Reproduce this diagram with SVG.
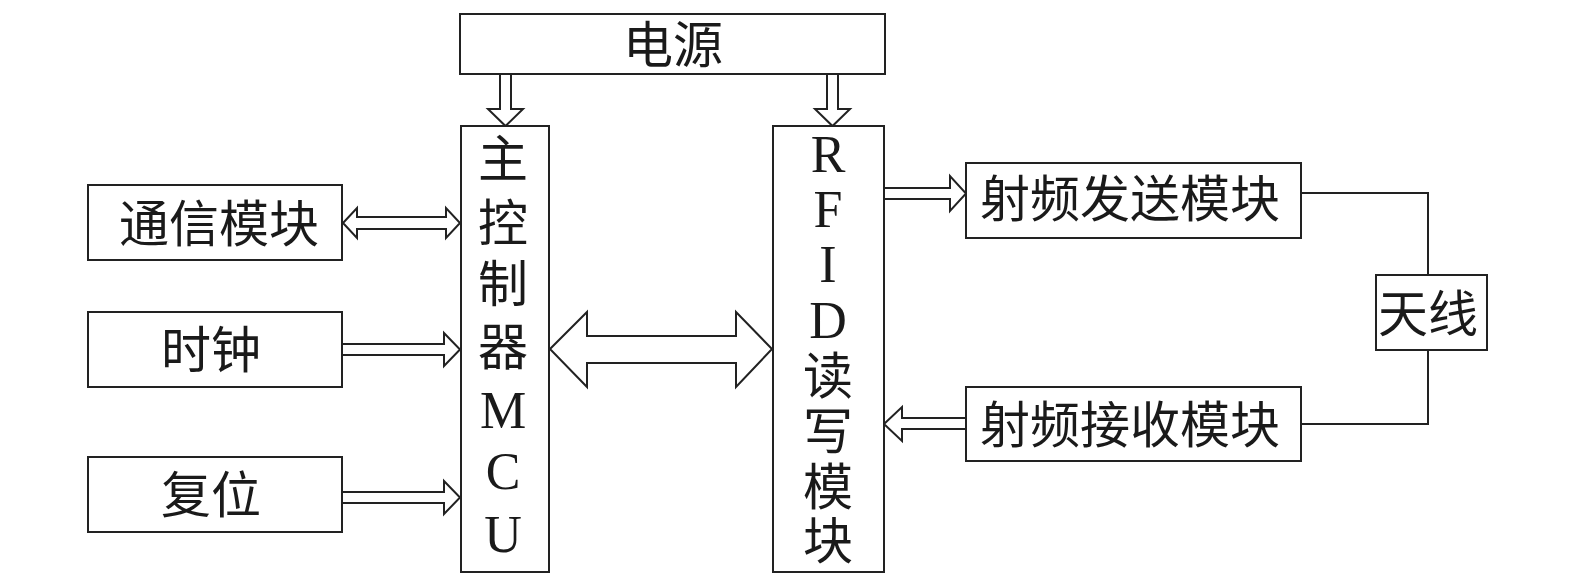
<svg xmlns="http://www.w3.org/2000/svg" width="1575" height="587" viewBox="0 0 1575 587">
<style>
.box{fill:#fff;stroke:#222;stroke-width:2}
.arr{fill:#fff;stroke:#222;stroke-width:2;stroke-linejoin:miter}
.ln{fill:none;stroke:#222;stroke-width:2}
.cn{font-family:"Noto Sans CJK SC","Noto Sans CJK TC",sans-serif;font-size:50px;fill:#1a1a1a;text-anchor:middle}
.lt{font-family:"Liberation Serif","Times New Roman",serif;font-size:52px;fill:#1a1a1a;text-anchor:middle}
</style>
<rect width="1575" height="587" fill="#fff"/>
<g id="connectors">
<polygon class="arr" points="500,74 511,74 511,109 523,109 505.5,126 488,109 500,109"/>
<polygon class="arr" points="827,74 838,74 838,109 850,109 832.5,126 815,109 827,109"/>
<polygon class="arr" points="343,223 357,208 357,217 446,217 446,208 460,223 446,238 446,229 357,229 357,238"/>
<polygon class="arr" points="342,344 444,344 444,333 460,349.5 444,366 444,355 342,355"/>
<polygon class="arr" points="342,492 444,492 444,481 460,497.5 444,514 444,503 342,503"/>
<polygon class="arr" points="550,349 587,312 587,336 736,336 736,312 772,349 736,387 736,363 587,363 587,387"/>
<polygon class="arr" points="884,188 950,188 950,176 966,193.5 950,211 950,199 884,199"/>
<polygon class="arr" points="884,424 902,407 902,418 966,418 966,429 902,429 902,441"/>
<polyline class="ln" points="1301,193 1428,193 1428,275"/>
<polyline class="ln" points="1428,350 1428,424 1301,424"/>
</g>
<g id="power">
<rect class="box" x="460" y="14" width="425" height="60"/>
<text class="cn" x="673" y="63">电源</text>
</g>
<g id="comm">
<rect class="box" x="88" y="185" width="254" height="75"/>
<text class="cn" x="219" y="242">通信模块</text>
</g>
<g id="clock">
<rect class="box" x="88" y="312" width="254" height="75"/>
<text class="cn" x="211" y="368">时钟</text>
</g>
<g id="reset">
<rect class="box" x="88" y="457" width="254" height="75"/>
<text class="cn" x="211" y="513">复位</text>
</g>
<g id="mcu">
<rect class="box" x="461" y="126" width="88" height="446"/>
<text class="cn" x="503" y="177">主</text>
<text class="cn" x="503" y="241">控</text>
<text class="cn" x="503" y="302">制</text>
<text class="cn" x="503" y="365">器</text>
<text class="lt" x="503" y="428">M</text>
<text class="lt" x="503" y="489">C</text>
<text class="lt" x="503" y="552">U</text>
</g>
<g id="rfid">
<rect class="box" x="773" y="126" width="111" height="446"/>
<text class="lt" x="828" y="172">R</text>
<text class="lt" x="828" y="227">F</text>
<text class="lt" x="828" y="282">I</text>
<text class="lt" x="828" y="338">D</text>
<text class="cn" x="828" y="394">读</text>
<text class="cn" x="828" y="449">写</text>
<text class="cn" x="828" y="505">模</text>
<text class="cn" x="828" y="559">块</text>
</g>
<g id="tx">
<rect class="box" x="966" y="163" width="335" height="75"/>
<text class="cn" x="1130" y="217">射频发送模块</text>
</g>
<g id="rx">
<rect class="box" x="966" y="387" width="335" height="74"/>
<text class="cn" x="1130" y="443">射频接收模块</text>
</g>
<g id="antenna">
<rect class="box" x="1376" y="275" width="111" height="75"/>
<text class="cn" x="1428" y="332">天线</text>
</g>
</svg>
